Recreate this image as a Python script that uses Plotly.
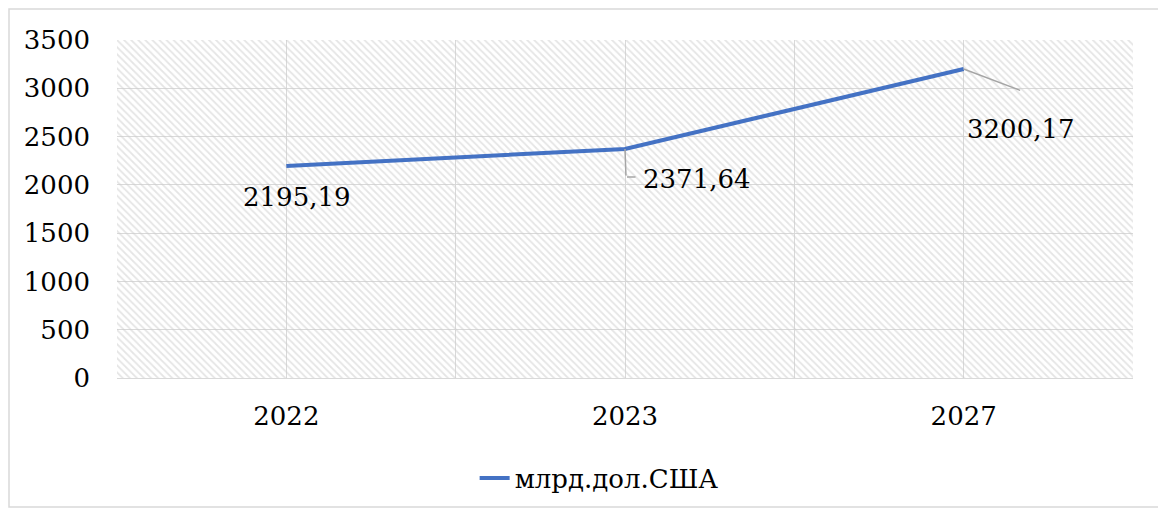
import plotly.graph_objects as go

years = ["2022", "2023", "2027"]
values = [2195.19, 2371.64, 3200.17]
series_name = "млрд.дол.США"
y_ticks = [0, 500, 1000, 1500, 2000, 2500, 3000, 3500]
y_max = 3500

x_pos = list(range(len(years)))
FONT = "DejaVu Serif"
FS = 26

fig = go.Figure()

# hatched plot-area background
fig.add_trace(go.Bar(
    x=x_pos, y=[y_max] * len(years), width=1,
    marker=dict(color="rgba(0,0,0,0)", line=dict(width=0),
                pattern=dict(shape="\\", fgcolor="#CCCCCC", bgcolor="rgba(0,0,0,0)",
                             size=5, solidity=0.35)),
    showlegend=False, hoverinfo="skip",
))

fig.add_trace(go.Scatter(
    x=x_pos, y=values, mode="lines", name=series_name,
    line=dict(color="#4472C4", width=4),
))

def fmt(v):
    return f"{v:.2f}".replace(".", ",")

lab_font = dict(family=FONT, size=FS, color="#000000")
offsets = [(11, -31), (72, -30), (57, -60)]
for i, v in enumerate(values):
    fig.add_annotation(x=x_pos[i], y=v, text=fmt(v), showarrow=False,
                       xshift=offsets[i][0], yshift=offsets[i][1], font=lab_font)

lead = "#A5A5A5"
fig.add_annotation(x=x_pos[1], y=values[1], text="", showarrow=True, arrowhead=0,
                   arrowwidth=1.5, arrowcolor=lead, ax=1, ay=28, standoff=0, startstandoff=0)
fig.add_annotation(x=x_pos[1], y=values[1], text="", showarrow=True, arrowhead=0,
                   arrowwidth=1.5, arrowcolor=lead, ax=10, ay=0, xshift=2, yshift=-28,
                   standoff=0, startstandoff=0)
fig.add_annotation(x=x_pos[2], y=values[2], text="", showarrow=True, arrowhead=0,
                   arrowwidth=1.5, arrowcolor=lead, ax=58, ay=22, standoff=0, startstandoff=0)

fig.update_layout(
    width=1166, height=508,
    margin=dict(l=109, r=41, t=32, b=138, autoexpand=False),
    paper_bgcolor="white", plot_bgcolor="white",
    font=dict(family=FONT, size=FS, color="#000000"),
    barmode="overlay",
    xaxis=dict(
        range=[-0.5, 2.5], tickvals=x_pos, ticktext=years,
        showgrid=True, gridcolor="#D9D9D9", gridwidth=1,
        minor=dict(tick0=-0.5, dtick=1, showgrid=True, gridcolor="#D9D9D9", gridwidth=1),
        ticks="", ticklabelstandoff=15,
        showline=True, linecolor="#D9D9D9", linewidth=1, zeroline=False,
        tickfont=dict(family=FONT, size=FS), automargin=False,
        fixedrange=True,
    ),
    yaxis=dict(
        range=[0, y_max], tickvals=y_ticks,
        showgrid=True, gridcolor="#D9D9D9", gridwidth=1,
        ticks="", ticklabelstandoff=26, zeroline=False,
        showline=False, automargin=False,
        tickfont=dict(family=FONT, size=FS),
        fixedrange=True,
    ),
    legend=dict(orientation="h", x=0.352, xanchor="left", y=-0.296, yanchor="middle",
                font=dict(family=FONT, size=FS), bgcolor="rgba(0,0,0,0)"),
    shapes=[dict(type="rect", xref="paper", yref="paper", x0=-0.1063, x1=1.0266,
                 y0=-0.3817, y1=1.0917, line=dict(color="#D9D9D9", width=1.5), layer="below")],
)

fig.write_html("out.html")
